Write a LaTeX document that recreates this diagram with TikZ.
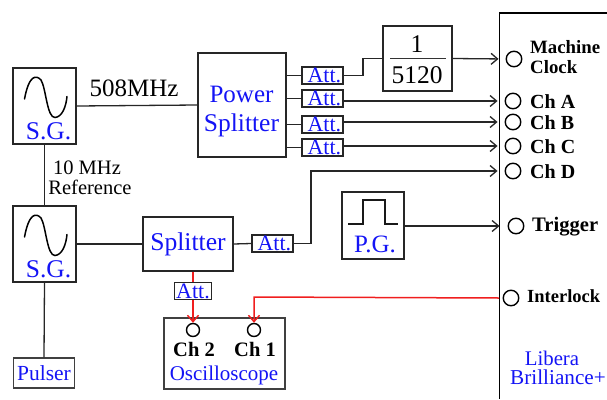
\documentclass[tikz,border=0pt]{standalone}
\usepackage{fontspec}
\setmainfont{Liberation Serif}
\usetikzlibrary{arrows.meta}
\definecolor{lblue}{RGB}{20,20,245}
\definecolor{lred}{RGB}{240,30,30}
\tikzset{
  x=1pt,y=-1pt,
  box/.style={draw=black!85,line width=1.4pt,inner sep=0pt,anchor=center,align=center},
  thinbox/.style={draw=black!75,line width=1.1pt,inner sep=0pt,anchor=center,align=center},
  att/.style={box,minimum width=41pt,minimum height=17pt,text height=14pt,text depth=0pt,text=lblue,font=\fontsize{22}{22}\selectfont},
  port/.style={circle,draw=black,line width=1.4pt,minimum size=15.5pt,inner sep=0pt},
  smallport/.style={circle,draw=black,line width=1.4pt,minimum size=13pt,inner sep=0pt},
  blab/.style={font=\bfseries\fontsize{20}{20}\selectfont,inner sep=0pt,anchor=west},
  bluelab/.style={text=lblue,inner sep=0pt,align=center},
  wire/.style={line width=1.3pt,draw=black!85},
  arr/.style={wire,-{Straight Barb[length=6.5pt,width=11pt,line width=1.3pt]},shorten >=7pt},
  redarr/.style={line width=1.5pt,draw=lred,-{Straight Barb[length=6.5pt,width=11pt,line width=1.4pt]}},
  redwire/.style={line width=1.5pt,draw=lred},
  curve/.style={line width=1.5pt,draw=black,line cap=round}
}
\begin{document}
\begin{tikzpicture}
\useasboundingbox (0,0) rectangle (607,399);
% signal generators
\node[box,minimum width=63pt,minimum height=76pt] (sga) at (44.5,106) {};
\node[box,minimum width=63pt,minimum height=76pt] (sgb) at (44.5,244) {};
\node[bluelab,font=\fontsize{25.5}{25.5}\selectfont] (sgat) at (48.5,131.5) {S.G.};
\node[bluelab,font=\fontsize{25.5}{25.5}\selectfont] (sgbt) at (48.5,269.5) {S.G.};
\draw[curve] (24.5,99) .. controls (29,75) and (36,74.5) .. (41,80) .. controls (46,88) and (47,118) .. (55,117.5) .. controls (62,117) and (66,107) .. (67,96.5);
\draw[curve] (24.5,237) .. controls (29,213) and (36,212.5) .. (41,218) .. controls (46,226) and (47,256) .. (55,255.5) .. controls (62,255) and (66,245) .. (67,234.5);
% main boxes
\node[box,minimum width=88pt,minimum height=104pt] (ps) at (242,105) {};
\node[bluelab,font=\fontsize{25}{25}\selectfont] (pst1) at (241.5,94) {Power};
\node[bluelab,font=\fontsize{25.5}{25.5}\selectfont] (pst2) at (241.5,125) {Splitter};
\node[box,minimum width=90pt,minimum height=54pt,text=lblue,font=\fontsize{25.6}{25.6}\selectfont] (sp) at (188,244) {Splitter};
\node[att] (a1) at (322.5,75.5) {\,Att.};
\node[att] (a2) at (322.5,98.5) {\,Att.};
\node[att] (a3) at (322.5,124.5) {\,Att.};
\node[att] (a4) at (322.5,147.5) {\,Att.};
\node[att] (a5) at (272.5,243.5) {\,Att.};
\node[att,minimum width=37pt] (a6) at (193,291) {Att.};
\node[box,minimum width=69pt,minimum height=65pt] (div) at (417.5,58.5) {};
\node[inner sep=0pt,font=\fontsize{25.5}{25.5}\selectfont] (dn) at (417,44) {1};
\node[inner sep=0pt,font=\fontsize{25.5}{25.5}\selectfont] (dd) at (417,75) {5120};
\draw[line width=1pt,black!80] (390,58) -- (446,58);
% pulse generator
\node[box,minimum width=62pt,minimum height=67pt] (pg) at (373,225.5) {};
\draw[line width=1.5pt,black!90] (348,224) -- (363,224) -- (363,200) -- (385,200) -- (385,224) -- (398,224);
\node[bluelab,font=\fontsize{25}{25}\selectfont] (pgt) at (375,244) {P.G.};
% pulser
\node[thinbox,minimum width=61pt,minimum height=30pt,text=lblue,font=\fontsize{21.5}{21.5}\selectfont] (pu) at (44,373) {Pulser};
% oscilloscope
\node[thinbox,minimum width=121pt,minimum height=71pt] (os) at (224.5,353.5) {};
\node[smallport] (c2) at (193,330) {};
\node[smallport] (c1) at (254,330) {};
\node[blab,anchor=center,font=\bfseries\fontsize{20.5}{20.5}\selectfont] (c2t) at (194,349) {Ch 2};
\node[blab,anchor=center,font=\bfseries\fontsize{20.5}{20.5}\selectfont] (c1t) at (255,349) {Ch 1};
\node[bluelab,font=\fontsize{21}{21}\selectfont] (ost) at (224,375) {Oscilloscope};
% Libera
\draw[line width=1.2pt,black] (607,13) -- (499.5,13) -- (499.5,399);
\node[port] (pm) at (514,59) {};
\node[port] (pa) at (513,101) {};
\node[port] (pb) at (513,122) {};
\node[port] (pc) at (513,146) {};
\node[port] (pd) at (513,171) {};
\node[port] (pt) at (516,226) {};
\node[port] (pi) at (511,298) {};
\node[blab,font=\bfseries\fontsize{18.8}{21}\selectfont] (pmt) at (530,47) {Machine};
\node[blab,font=\bfseries\fontsize{18.8}{21}\selectfont] (pmu) at (530,67.5) {Clock};
\node[blab] (pat) at (530,102) {Ch A};
\node[blab] (pbt) at (530,123) {Ch B};
\node[blab] (pct) at (530,147) {Ch C};
\node[blab] (pdt) at (530,172) {Ch D};
\node[blab,font=\bfseries\fontsize{20.6}{20.6}\selectfont] (ptt) at (532,227) {Trigger};
\node[blab,font=\bfseries\fontsize{18.5}{18.5}\selectfont] (pit) at (527,296) {Interlock};
\node[bluelab,font=\fontsize{20.8}{20.8}\selectfont] (lib) at (552,358) {Libera};
\node[bluelab,font=\fontsize{21.2}{21.2}\selectfont] (lib2) at (558,377) {Brilliance+};
% labels
\node[inner sep=0pt,font=\fontsize{25}{25}\selectfont] (f508) at (134,88) {508MHz};
\node[inner sep=0pt,font=\fontsize{20.5}{20.5}\selectfont] (fref1) at (87,168) {10 MHz};
\node[inner sep=0pt,font=\fontsize{20.5}{20.5}\selectfont] (fref2) at (90,187) {Reference};
% connectors
\draw[wire] (sga.east) -- (ps.west);
\draw[wire] (sga.south) -- (sgb.north);
\draw[wire] (sgb.south) -- (pu.north);
\draw[wire] (sgb.east) -- (sp.west);
\draw[wire] (sp.east) -- (a5.west);
\draw[wire] (a1.west -| ps.east) -- (a1.west);
\draw[wire] (a2.west -| ps.east) -- (a2.west);
\draw[wire] (a3.west -| ps.east) -- (a3.west);
\draw[wire] (a4.west -| ps.east) -- (a4.west);
\draw[wire] (a1.east) -- (363,75.5) -- (363,58.5) -- (div.west);
\draw[arr] (div.east) -- (pm.west);
\draw[arr] (a2.east |- pa.west) -- (pa.west);
\draw[arr] (a3.east |- pb.west) -- (pb.west);
\draw[arr] (a4.east |- pc.west) -- (pc.west);
\draw[arr] (a5.east) -- (311,243.5) -- (311,171) -- (pd.west);
\draw[arr,shorten >=8pt] (pg.east |- pt.west) -- (pt.west);
\draw[redwire] (sp.south -| a6.north) -- (a6.north);
\draw[redarr] (a6.south) -- (c2.north);
\draw[redarr] (pi.west) ++(-3.5,0) -- (254,297) -- (c1.north);
\end{tikzpicture}
\end{document}
